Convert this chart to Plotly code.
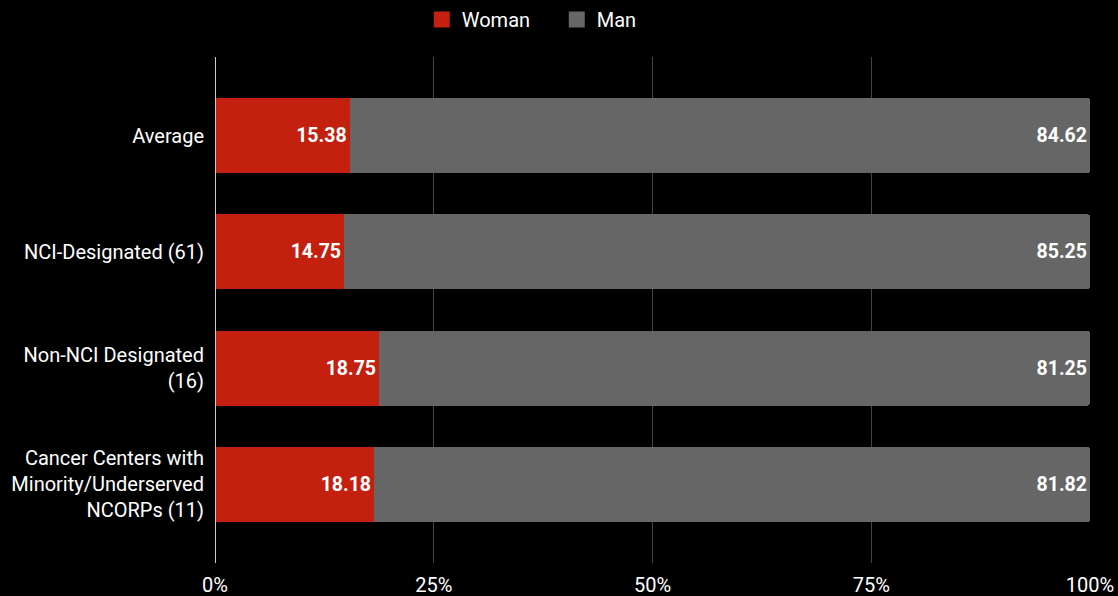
import plotly.graph_objects as go

categories = ["Average", "NCI-Designated (61)", "Non-NCI Designated<br>(16)",
              "Cancer Centers with<br>Minority/Underserved<br>NCORPs (11)"]
woman = [15.38, 14.75, 18.75, 18.18]
man = [84.62, 85.25, 81.25, 81.82]
tick_vals = [0, 25, 50, 75, 100]
tick_text = ["0%", "25%", "50%", "75%", "100%"]

RED = "#c3200f"
GRAY = "#666666"

fig = go.Figure()
fig.add_trace(go.Bar(y=categories, x=woman, name="Woman", orientation="h",
                     marker=dict(color=RED, line=dict(width=0)), showlegend=False,
                     text=[f"{v:.2f}" for v in woman], textposition="inside",
                     insidetextanchor="end",
                     textfont=dict(color="white", size=19.5, family="Roboto", weight=700)))
fig.add_trace(go.Bar(y=categories, x=man, name="Man", orientation="h",
                     marker=dict(color=GRAY, line=dict(width=0)), showlegend=False,
                     text=[f"{v:.2f}" for v in man], textposition="inside",
                     insidetextanchor="end",
                     textfont=dict(color="white", size=19.5, family="Roboto", weight=700)))
# legend entries with larger square symbols
for nm, col in [("Woman", RED), ("Man", GRAY)]:
    fig.add_trace(go.Scatter(x=[None], y=[None], mode="markers", name=nm,
                             marker=dict(symbol="square", size=20, color=col)))

fig.update_layout(
    width=1118, height=596,
    barmode="stack", bargap=0.355, barcornerradius=3,
    paper_bgcolor="black", plot_bgcolor="black",
    font=dict(family="Roboto", color="white", size=20),
    margin=dict(l=215, r=28, t=57, b=33, autoexpand=False),
    legend=dict(orientation="h", xref="container", x=0.498, xanchor="center",
                yref="container", y=1.0, yanchor="top", entrywidth=90,
                font=dict(size=20, color="white"), traceorder="normal"),
    xaxis=dict(range=[0, 100], tickvals=tick_vals, ticktext=tick_text,
               showgrid=True, gridcolor="#454545", gridwidth=1, automargin=False,
               zeroline=False, showline=False, ticks="", ticklabelstandoff=8,
               tickfont=dict(size=20, color="white")),
    yaxis=dict(autorange=False, range=[3.675, -0.675], showgrid=False,
               showline=False, zeroline=False, ticks="", automargin=False,
               ticklabelstandoff=10,
               tickfont=dict(size=20, color="white")),
    uniformtext=dict(mode=False),
)
fig.add_shape(type="line", xref="x", yref="paper", x0=0, x1=0, y0=0, y1=1,
              line=dict(color="#cccccc", width=2), layer="above")

fig.write_html("out.html")
